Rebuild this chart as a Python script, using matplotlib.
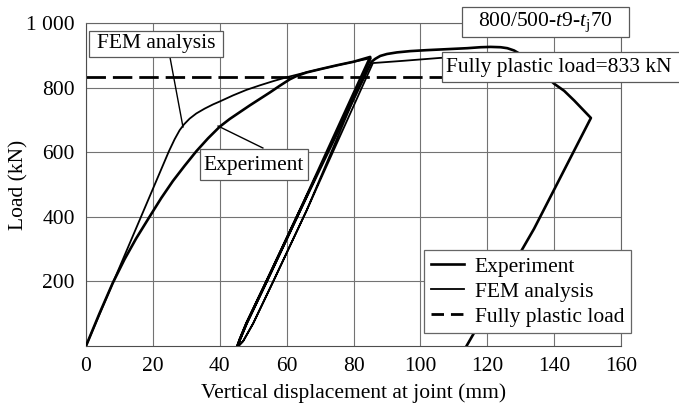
import matplotlib
matplotlib.use("Agg")
import matplotlib.pyplot as plt
from matplotlib.lines import Line2D
from matplotlib.patches import Rectangle

plt.rcParams["font.family"] = ["Liberation Serif", "DejaVu Serif"]
plt.rcParams["mathtext.fontset"] = "custom"
plt.rcParams["mathtext.rm"] = "Liberation Serif"
plt.rcParams["mathtext.it"] = "Liberation Serif:italic"
plt.rcParams["lines.scale_dashes"] = False

# load–displacement curves: loading, unloading, reloading (mm, kN)
exp_disp = [0, 4, 8, 11.5, 15, 19, 22.5, 26, 29.5, 33, 36.5, 40, 43, 46, 49, 52, 55,
            58, 61, 63, 66, 70, 75, 80, 85,
            64, 54, 48, 46, 45.3,
            46, 48, 54, 64, 85.4,
            86.5, 88, 90, 93, 97, 102, 108, 114, 118, 121, 124, 126, 128, 130,
            135, 140, 143, 146, 148.5, 151, 134, 113.8]
exp_load = [0, 100, 195, 268, 333, 400, 458, 511, 558, 603, 643, 679, 703, 724, 745,
            765, 785, 806, 826, 836, 847, 857, 869, 880, 895,
            420, 200, 70, 20, 0,
            20, 70, 200, 420, 880,
            889, 898, 904, 909, 913, 916, 919, 922, 925, 926, 925, 922, 915, 903,
            860, 812, 790, 760, 733, 706, 363, 0]

fem_disp = [0, 24.8, 26.5, 28, 29.3, 31, 33, 35.5, 38, 40, 44, 48, 52, 56, 60, 65,
            70, 76, 80, 85.2,
            66, 56, 50, 47, 45.6,
            47, 50, 56, 66, 85.8,
            95, 106, 115, 125]
fem_load = [0, 603, 640, 668, 686, 704, 720, 735, 748, 757, 776, 793, 807, 820, 832,
            845, 857, 871, 880, 891,
            420, 200, 70, 15, 0,
            15, 70, 200, 420, 876,
            883, 892, 897, 902]

plastic_load = 833
x_ticks = [0, 20, 40, 60, 80, 100, 120, 140, 160]
y_ticks = [200, 400, 600, 800, 1000]
y_tick_labels = ["200", "400", "600", "800", "1 000"]

FS = 15.5


def label_box(ax, x0, x1, y0, y1):
    """White framed box in data units, allowed to run past the axes."""
    r = Rectangle((x0, y0), x1 - x0, y1 - y0, fc="white", ec="0.35", lw=0.9,
                  zorder=5, clip_on=False)
    ax.add_patch(r)


fig = plt.figure(figsize=(6.79, 4.11), dpi=100)
ax = fig.add_axes([86 / 679, 1 - 346 / 411, 535 / 679, 323 / 411])

ax.plot(exp_disp, exp_load, color="k", lw=1.9, zorder=3)
ax.plot(fem_disp, fem_load, color="k", lw=1.3, zorder=3)
ax.axhline(plastic_load, color="k", lw=2.0, dashes=(14, 5), zorder=2)

ax.set_xlim(0, 160)
ax.set_ylim(0, 1000)
ax.set_xticks(x_ticks)
ax.set_yticks(y_ticks)
ax.set_yticklabels(y_tick_labels)
ax.tick_params(length=0, labelsize=FS, pad=8)
ax.grid(True, color="0.45", lw=0.8)
ax.set_axisbelow(True)
for side in ["top", "right"]:
    ax.spines[side].set_color("0.4")
    ax.spines[side].set_linewidth(0.8)
for side in ["left", "bottom"]:
    ax.spines[side].set_color("0.3")

ax.set_xlabel("Vertical displacement at joint (mm)", fontsize=FS, labelpad=5)
ax.set_ylabel("Load (kN)", fontsize=FS)
ax.yaxis.set_label_coords(-0.108, 0.5)

# call-out labels with leader lines
ax.plot([25.1, 29.0], [895, 678], color="k", lw=1.0, zorder=4)
label_box(ax, 0.9, 41.0, 895, 975)
ax.text(20.9, 935, "FEM analysis", fontsize=FS, ha="center", va="center", zorder=6)

ax.plot([39.5, 52.9], [681, 613], color="k", lw=1.0, zorder=4)
label_box(ax, 34.1, 66.4, 514, 610)
ax.text(50.2, 560, "Experiment", fontsize=FS, ha="center", va="center", zorder=6)

label_box(ax, 112.4, 162.4, 957, 1049)
ax.text(137.4, 1002, r"800/500-$t$9-$t_\mathrm{j}$70", fontsize=FS, ha="center",
        va="center", zorder=6, clip_on=False)

label_box(ax, 106.5, 185, 817, 910)
ax.text(107.7, 862, "Fully plastic load=833 kN", fontsize=FS, ha="left",
        va="center", zorder=6, clip_on=False)

handles = [
    Line2D([], [], color="k", lw=1.9, label="Experiment"),
    Line2D([], [], color="k", lw=1.3, label="FEM analysis"),
    Line2D([], [], color="k", lw=2.0, dashes=(9, 5), label="Fully plastic load"),
]
leg = ax.legend(handles=handles, loc="lower left", bbox_to_anchor=(0.632, 0.04),
                borderaxespad=0, fontsize=FS, fancybox=False, framealpha=1,
                edgecolor="0.4", handlelength=1.55, handletextpad=0.5,
                labelspacing=0.22, borderpad=0.3)
leg.get_frame().set_linewidth(0.9)
leg.set_zorder(7)

fig.savefig("out.png", dpi=100)
